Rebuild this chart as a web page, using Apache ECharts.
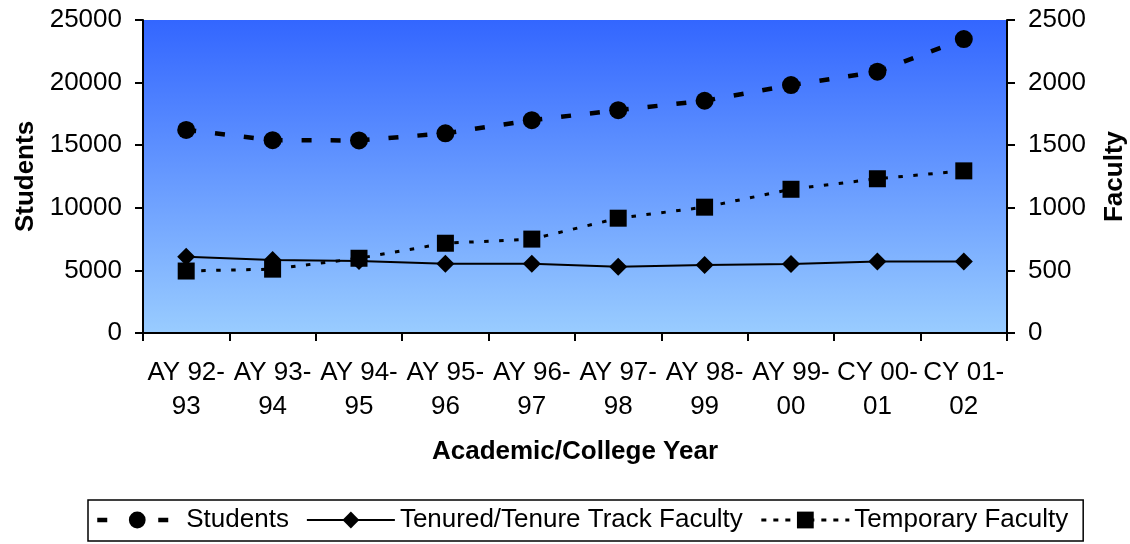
<!DOCTYPE html>
<html>
<head>
<meta charset="utf-8">
<script src="https://cdn.jsdelivr.net/npm/echarts@6/dist/echarts.min.js"></script>
<style>
  html, body { margin: 0; padding: 0; background: #fff; }
  #chart { width: 1130px; height: 544px; }
</style>
</head>
<body>
<div id="chart"></div>
<script>
const categories = ['AY 92-\n93', 'AY 93-\n94', 'AY 94-\n95', 'AY 95-\n96', 'AY 96-\n97',
                    'AY 97-\n98', 'AY 98-\n99', 'AY 99-\n00', 'CY 00-\n01', 'CY 01-\n02'];
const students = [16220, 15400, 15380, 15950, 17000, 17800, 18550, 19800, 20870, 23480];
const tenured = [610, 583, 575, 553, 553, 530, 543, 552, 571, 571];
const temporary = [495, 510, 597, 717, 750, 917, 1005, 1148, 1232, 1295];
const studentTicks = { min: 0, max: 25000, interval: 5000 };
const facultyTicks = { min: 0, max: 2500, interval: 500 };

const FONT = '"Liberation Sans", Arial, sans-serif';
const FS = 26;
const chart = echarts.init(document.getElementById('chart'), null, { renderer: 'canvas' });

const axisLine = { show: true, lineStyle: { color: '#000', width: 2 } };
const axisTick = { show: true, length: 8, inside: false, lineStyle: { color: '#000', width: 2 } };
const plain = v => String(v);

chart.setOption({
  animation: false,
  backgroundColor: '#fff',
  textStyle: { fontFamily: FONT, color: '#000' },
  grid: {
    left: 143, right: 123, top: 20, bottom: 211,
    containLabel: false,
    outerBoundsMode: 'none',
    show: true, borderWidth: 0,
    backgroundColor: new echarts.graphic.LinearGradient(0, 0, 0, 1, [
      { offset: 0, color: '#3366FF' },
      { offset: 1, color: '#99CCFF' }
    ])
  },
  legend: {
    left: 88, top: 500,
    padding: [7, 15, 8, 3],
    borderColor: '#000', borderWidth: 1.5, backgroundColor: '#fff',
    itemWidth: 88, itemHeight: 21, itemGap: 17,
    lineStyle: { width: 'inherit' },
    textStyle: { fontFamily: FONT, fontSize: FS, color: '#000' },
    data: [
      { name: 'Students', lineStyle: { type: [0, 4, 10, 51, 10, 100] } },
      { name: 'Tenured/Tenure Track Faculty' },
      { name: 'Temporary Faculty', lineStyle: { type: [5, 7] } }
    ]
  },
  xAxis: {
    type: 'category',
    data: categories,
    boundaryGap: true,
    axisLine: axisLine,
    axisTick: axisTick,
    axisLabel: { interval: 0, fontFamily: FONT, fontSize: FS, lineHeight: 34, color: '#000', margin: 23 },
    name: 'Academic/College Year',
    nameLocation: 'middle',
    nameGap: 106,
    nameTextStyle: { fontFamily: FONT, fontSize: FS, fontWeight: 'bold', color: '#000' },
    splitLine: { show: false }
  },
  yAxis: [
    {
      type: 'value', position: 'left',
      min: studentTicks.min, max: studentTicks.max, interval: studentTicks.interval,
      axisLine: axisLine, axisTick: axisTick,
      axisLabel: { fontFamily: FONT, fontSize: FS, color: '#000', margin: 21, formatter: plain },
      splitLine: { show: false },
      name: 'Students', nameLocation: 'middle', nameGap: 103.5, nameRotate: 90,
      nameTextStyle: { fontFamily: FONT, fontSize: FS, fontWeight: 'bold', color: '#000' }
    },
    {
      type: 'value', position: 'right',
      min: facultyTicks.min, max: facultyTicks.max, interval: facultyTicks.interval,
      axisLine: axisLine, axisTick: axisTick,
      axisLabel: { fontFamily: FONT, fontSize: FS, color: '#000', margin: 21, formatter: plain },
      splitLine: { show: false },
      name: 'Faculty', nameLocation: 'middle', nameGap: 95, nameRotate: 90,
      nameTextStyle: { fontFamily: FONT, fontSize: FS, fontWeight: 'bold', color: '#000' }
    }
  ],
  series: [
    {
      name: 'Students', type: 'line', yAxisIndex: 0, data: students,
      symbol: 'circle', symbolSize: 18,
      itemStyle: { color: '#000' },
      lineStyle: { color: '#000', width: 4.5, type: [10, 19] }
    },
    {
      name: 'Tenured/Tenure Track Faculty', type: 'line', yAxisIndex: 1, data: tenured,
      symbol: 'diamond', symbolSize: [18, 18],
      itemStyle: { color: '#000' },
      lineStyle: { color: '#000', width: 2 }
    },
    {
      name: 'Temporary Faculty', type: 'line', yAxisIndex: 1, data: temporary,
      symbol: 'rect', symbolSize: 17,
      itemStyle: { color: '#000' },
      lineStyle: { color: '#000', width: 3, type: [4.5, 10.5] }
    }
  ]
});
</script>
</body>
</html>
